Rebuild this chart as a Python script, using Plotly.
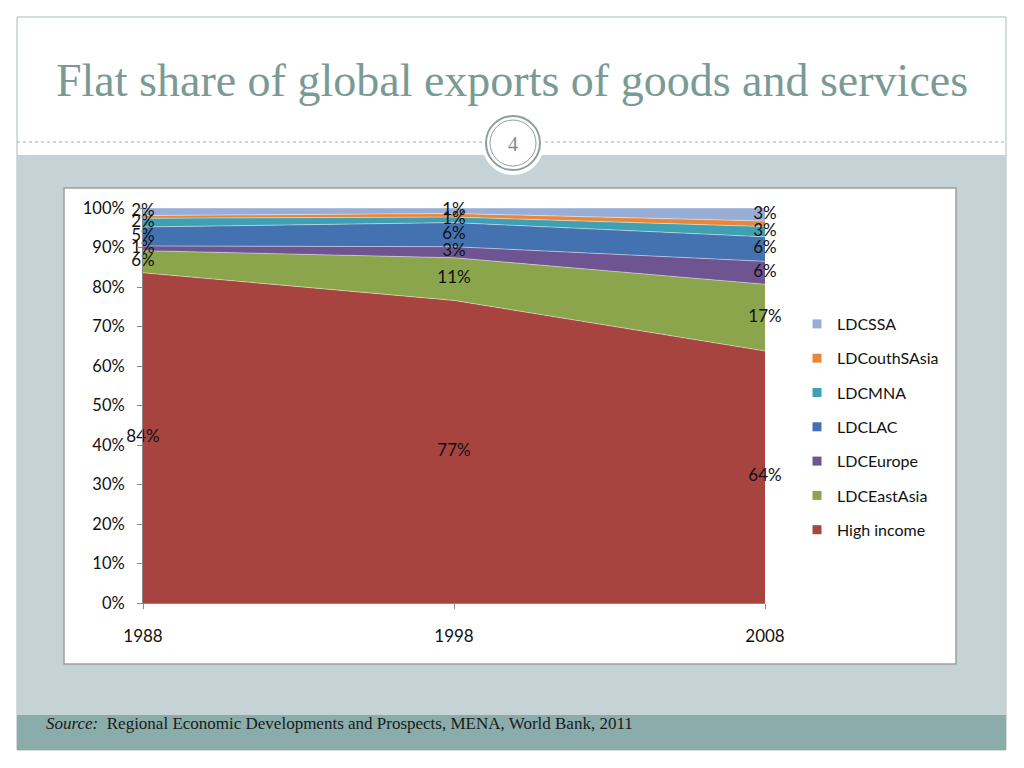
import numpy as np
import plotly.graph_objects as go

# ------------------ Data ------------------
years = [1988, 1998, 2008]
series_names = ["High income", "LDCEastAsia", "LDCEurope", "LDCLAC", "LDCMNA", "LDCouthSAsia", "LDCSSA"]
high_income = [83.6, 76.6, 63.8]
ldc_east_asia = [5.6, 10.8, 16.9]
ldc_europe = [1.2, 2.8, 5.8]
ldc_lac = [4.8, 6.1, 6.2]
ldc_mna = [2.2, 1.4, 2.6]
ldc_south_asia = [0.7, 0.9, 1.4]
ldc_ssa = [1.9, 1.4, 3.3]
show_labels = [True, True, True, True, True, False, True]
y_ticks = [0, 10, 20, 30, 40, 50, 60, 70, 80, 90, 100]

series_values = [high_income, ldc_east_asia, ldc_europe, ldc_lac, ldc_mna, ldc_south_asia, ldc_ssa]
colors = ["#A8443F", "#8AA54B", "#6E5592", "#4472B0", "#3FA0B4", "#E8873A", "#99AED6"]

W, H = 1024, 768
OFF = 8  # page body margin


def px_x(v):
    return (v - OFF) / W


def px_y(v):
    return 1 - (v - OFF) / H


fig = go.Figure()

# ------------------ Stacked areas ------------------
for name, vals, col in zip(series_names, series_values, colors):
    fig.add_trace(go.Scatter(
        x=years, y=vals, name=name, stackgroup="one", mode="lines",
        line=dict(width=0.8, color="rgba(255,255,255,0.55)"),
        fillcolor=col, showlegend=False, hoverinfo="x+y+name",
    ))

# legend entries as square swatches, SSA on top
for rank, (name, col) in enumerate(zip(series_names, colors)):
    fig.add_trace(go.Scatter(
        x=[None], y=[None], mode="markers", name=name,
        marker=dict(symbol="square", size=9, color=col),
        legendrank=len(series_names) - rank, legendgroup=name,
    ))

# ------------------ Data labels (band midpoints) ------------------
tops = np.cumsum(np.array(series_values), axis=0)
for i, (vals, show) in enumerate(zip(series_values, show_labels)):
    if not show:
        continue
    mids = tops[i] - np.array(vals) / 2
    fig.add_trace(go.Scatter(
        x=years, y=mids, mode="text", showlegend=False, hoverinfo="skip",
        text=[f"{round(v)}%" for v in vals], cliponaxis=False,
        textfont=dict(family="Lato", size=17, color="#111111"),
    ))

# ------------------ Slide decoration ------------------
shapes = [
    # slide frame
    dict(type="rect", xref="paper", yref="paper", x0=px_x(17), x1=px_x(1006), y0=px_y(750), y1=px_y(17),
         fillcolor="white", line=dict(color="#A9BABA", width=1), layer="below"),
    # grey-blue body
    dict(type="rect", xref="paper", yref="paper", x0=px_x(17), x1=px_x(1006), y0=px_y(715), y1=px_y(155),
         fillcolor="#C5D3D7", line=dict(width=0), layer="below"),
    # footer band
    dict(type="rect", xref="paper", yref="paper", x0=px_x(17), x1=px_x(1006), y0=px_y(750), y1=px_y(715),
         fillcolor="#8AACAA", line=dict(width=0), layer="below"),
    # dotted divider
    dict(type="line", xref="paper", yref="paper", x0=px_x(17), x1=px_x(1006), y0=px_y(142), y1=px_y(142),
         line=dict(color="#A3AAAA", width=1, dash="dot"), layer="below"),
    # white disc behind page number
    dict(type="circle", xref="paper", yref="paper", x0=px_x(482), x1=px_x(544), y0=px_y(175), y1=px_y(113),
         fillcolor="white", line=dict(width=0), layer="below"),
    # rings
    dict(type="circle", xref="paper", yref="paper", x0=px_x(486), x1=px_x(540), y0=px_y(170), y1=px_y(116),
         line=dict(color="#8E9E9C", width=2), layer="below"),
    dict(type="circle", xref="paper", yref="paper", x0=px_x(490), x1=px_x(536), y0=px_y(166), y1=px_y(120),
         line=dict(color="#8E9E9C", width=1), layer="below"),
    # chart box
    dict(type="rect", xref="paper", yref="paper", x0=px_x(64), x1=px_x(956), y0=px_y(664), y1=px_y(188),
         fillcolor="white", line=dict(color="#9E9E9E", width=1.5), layer="below"),
]

annotations = [
    dict(text="Flat share of global exports of goods and services", xref="paper", yref="paper",
         x=px_x(512), y=px_y(80), showarrow=False, xanchor="center", yanchor="middle",
         font=dict(family="Liberation Serif", size=46, color="#7A9A95")),
    dict(text="4", xref="paper", yref="paper", x=px_x(513), y=px_y(144), showarrow=False,
         xanchor="center", yanchor="middle",
         font=dict(family="Liberation Serif", size=20, color="#7F8C8A")),
    dict(text="<i>Source:</i>  Regional Economic Developments and Prospects, MENA, World Bank, 2011",
         xref="paper", yref="paper", x=px_x(44), y=px_y(723), showarrow=False,
         xanchor="left", yanchor="middle",
         font=dict(family="Liberation Serif", size=17, color="#1A1A1A")),
]

fig.update_layout(
    template="none",
    width=W, height=H,
    margin=dict(l=0, r=0, t=0, b=0, pad=0),
    paper_bgcolor="white",
    plot_bgcolor="rgba(0,0,0,0)",
    shapes=shapes,
    annotations=annotations,
    showlegend=True,
    legend=dict(
        x=px_x(797), y=px_y(307), xanchor="left", yanchor="top",
        traceorder="grouped", tracegroupgap=10.5, itemwidth=30,
        bgcolor="rgba(0,0,0,0)", borderwidth=0,
        font=dict(family="Lato", size=16, color="#111111"),
    ),
    xaxis=dict(
        domain=[px_x(143), px_x(765)], range=[1988, 2008], automargin=False,
        tickvals=years, ticktext=[str(y) for y in years],
        ticks="outside", ticklen=5, tickcolor="#888888",
        showline=True, linecolor="#888888", showgrid=False, zeroline=False,
        ticklabelstandoff=13,
        tickfont=dict(family="Lato", size=17, color="#111111"),
    ),
    yaxis=dict(
        domain=[px_y(603), px_y(208)], range=[0, 100], automargin=False,
        tickvals=y_ticks, ticktext=[f"{t}%" for t in y_ticks],
        ticks="outside", ticklen=5, tickcolor="#888888",
        showline=True, linecolor="#888888", showgrid=False, zeroline=False,
        ticklabelstandoff=9,
        tickfont=dict(family="Lato", size=16.5, color="#111111"),
    ),
)

fig.write_html("out.html")
